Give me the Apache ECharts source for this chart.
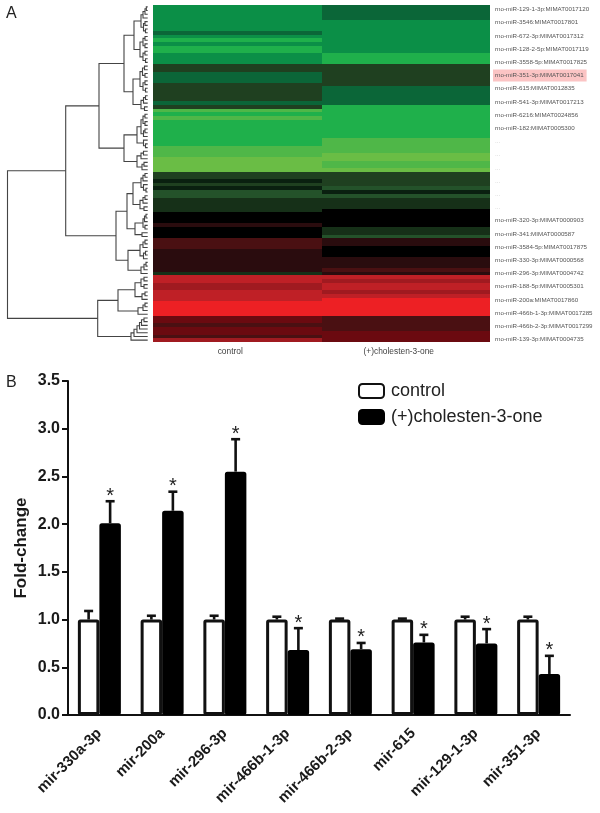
<!DOCTYPE html>
<html>
<head>
<meta charset="utf-8">
<style>
  html, body { margin: 0; padding: 0; background: #fff; }
  #chart { width: 600px; height: 813px; }
</style>
<script src="https://cdn.jsdelivr.net/npm/echarts@6/dist/echarts.min.js"></script>
</head>
<body>
<div id="chart"></div>
<script>
const FONT = '"Liberation Sans", Arial, sans-serif'

// panel A: one level per heatmap row, top to bottom
const heatColumns = ['control', '(+)cholesten-3-one']
const controlLevels = [
  -6, -6, -6, -6, -6, -6, -6, -5, -6, -7, -6, -7, -7, -6, -6, -6, -3, -3, -5, -5,
  -5, -3, -3, -3, -3, -3, -5, -3, -8, -7, -8, -7, -7, -7, -7, -7, -7, -7, -8, -8,
  -8, -9, -9, -9, -9, -3, -3, -1, -3, -1, -4, -4, -2, -2, -2, -2, 0, 0, 0, 1,
  0, 0, 0, 2, 2, 2, 1, 1, 1, 1, 1, 1, -2, 5, 5, 4, 4, 5, 5, 5,
  6, 6, 6, 6, 3, 3, 2, 3, 3, 2, 4
]
const treatedLevels = [
  -5, -5, -5, -5, -6, -6, -6, -6, -6, -6, -6, -6, -6, -7, -7, -7, -3, -3, -3, -3,
  -3, -3, -5, -5, -5, -5, -5, -7, -7, -7, -7, -7, -7, -7, -7, -7, -8, -8, -8, -8,
  -9, -9, -8, -8, -9, -3, -3, -3, -3, -4, -1, -4, -2, -2, -2, 0, 0, 0, 0, 0,
  -2, -2, -4, 1, 1, 0, 0, 0, 1, 1, 1, 2, 1, 5, 4, 5, 5, 4, 5, 6,
  6, 6, 6, 6, 2, 2, 2, 2, 3, 3, 3
]
const levelColors = [
  '#6abd45', '#4fb748', '#1fb04b', '#0b8f47', '#0b6638', '#24522a', '#1f4020', '#163018',
  '#0a2010', '#000000', '#2a0c0e', '#4a1012', '#6b0a10', '#a01a20', '#bf2026', '#ed2024'
]
const rowLabels = [
  'rno-miR-129-1-3p:MIMAT0017120', 'rno-miR-3546:MIMAT0017801', 'rno-miR-672-3p:MIMAT0017312',
  'rno-miR-128-2-5p:MIMAT0017119', 'rno-miR-3558-5p:MIMAT0017825', 'rno-miR-351-3p:MIMAT0017041',
  'rno-miR-615:MIMAT0012835', 'rno-miR-541-3p:MIMAT0017213', 'rno-miR-6216:MIMAT0024856',
  'rno-miR-182:MIMAT0005300', '...', '... ', '...  ', '...   ', '...    ', '...     ',
  'rno-miR-320-3p:MIMAT0000903', 'rno-miR-341:MIMAT0000587', 'rno-miR-3584-5p:MIMAT0017875',
  'rno-miR-330-3p:MIMAT0000568', 'rno-miR-296-3p:MIMAT0004742', 'rno-miR-188-5p:MIMAT0005301',
  'rno-miR-200a:MIMAT0017860', 'rno-miR-466b-1-3p:MIMAT0017285', 'rno-miR-466b-2-3p:MIMAT0017299',
  'rno-miR-139-3p:MIMAT0004735'
]
// node = [merge position, child, child], a bare number is a heatmap row
const dendroTree = [7.5,
  [65.7,
    [99,
      [124,
        [134,
          [141, [143, [145, [146.3, 0, 1], 2], 3], [143.5, [145, 4, 5], [145.5, 6, 7]]],
          [140, [143, [145, 8, 9], [145, 10, 11]], [143, [145, 12, 13], [145.5, 14, 15]]]],
        [133,
          [140, [142.5, [144.5, 16, 17], [145, 18, 19]], [143, [145, 20, 21], [145.5, 22, 23]]],
          [141, [143.5, [145.5, 24, 25], 26], [144.5, 27, 28]]]],
      [124,
        [137,
          [141, [143, [145, 29, 30], [145, 31, 32]], [143.5, [145, 33, 34], 35]],
          [143.5, 36, [145.5, 37, 38]]],
        [137,
          [141, [143.5, 39, 40], 41],
          [142, [144, 42, 43], 44]]]],
    [116,
      [127,
        [133,
          [141, [143, [145, 45, 46], 47], [143.5, 48, [146, 49, 50]]],
          [140, [143, [145, 51, 52], 53], [144, 54, 55]]],
        [135,
          [143, [144.5, [146, 56, 57], 58], [145, 59, 60]],
          [142, 61, 62]]],
      [128,
        [140, [143, [145, 63, 64], 65], [143.5, [145.5, 66, 67], 68]],
        [141, [144, [146, 69, 70], 71], 72]]]],
  [97.7,
    [118,
      [135,
        [141, [144, 73, 74], [144, 75, 76]],
        [142, [145, 77, 78], 79]],
      [138, [143, [145, 80, 81], 82], 83]],
    [131, [134, [137, [139.5, [141.5, [144, 84, 85], 86], 87], 88], 89], 90]]]
const LEAF_X = 147.7

// panel B
const mirNames = ['mir-330a-3p', 'mir-200a', 'mir-296-3p', 'mir-466b-1-3p', 'mir-466b-2-3p', 'mir-615', 'mir-129-1-3p', 'mir-351-3p']
const controlValues = [1, 1, 1, 1, 1, 1, 1, 1]
const controlTops = [1.09, 1.04, 1.04, 1.03, 1.01, 1.01, 1.03, 1.03]
const treatedValues = [2.01, 2.14, 2.55, 0.68, 0.69, 0.76, 0.75, 0.43]
const treatedTops = [2.24, 2.34, 2.89, 0.91, 0.755, 0.84, 0.90, 0.62]

const heatData = []
controlLevels.forEach((v, i) => heatData.push([0, i, v]))
treatedLevels.forEach((v, i) => heatData.push([1, i, v]))

// flatten the tree into brackets: x, y1, x1, y2, x2
const dendroLinks = []
function walk(node) {
  if (typeof node === 'number') return { x: LEAF_X, y: node + 0.5 }
  const a = walk(node[1])
  const b = walk(node[2])
  dendroLinks.push([node[0], a.y, a.x, b.y, b.x])
  return { x: node[0], y: (a.y + b.y) / 2 }
}
walk(dendroTree)

const BAR_OFFSET = 10.75

function errorBarItem(offset, star) {
  return function (params, api) {
    const base = api.coord([api.value(0), api.value(1)])
    const top = api.coord([api.value(0), api.value(2)])
    const x = base[0] + offset
    const style = { stroke: '#111', lineWidth: 2.6, fill: null }
    const children = [
      { type: 'line', shape: { x1: x, y1: base[1], x2: x, y2: top[1] }, style },
      { type: 'line', shape: { x1: x - 4.5, y1: top[1], x2: x + 4.5, y2: top[1] }, style }
    ]
    if (star) {
      children.push({
        type: 'text',
        style: { text: '*', x, y: top[1] - 5, align: 'center', verticalAlign: 'middle', fontSize: 20, fontFamily: FONT, fill: '#222' }
      })
    }
    return { type: 'group', children }
  }
}

// whole-pixel row edges, otherwise the thin rows show seams
function heatCell(params, api) {
  const size = api.size([1, 1])
  const center = api.coord([api.value(0), api.value(1)])
  const x0 = Math.round(center[0] - size[0] / 2)
  const x1 = Math.round(center[0] + size[0] / 2)
  const y0 = Math.round(center[1] - size[1] / 2)
  const y1 = Math.round(center[1] + size[1] / 2)
  return {
    type: 'rect',
    shape: { x: x0, y: y0, width: x1 - x0, height: y1 - y0 },
    style: { fill: api.visual('color') }
  }
}

const chart = echarts.init(document.getElementById('chart'))
chart.setOption({
  backgroundColor: '#fff',
  animation: false,
  textStyle: { fontFamily: FONT },
  title: [
    { text: 'A', left: 6, top: 6, padding: 0, textStyle: { fontSize: 16, fontWeight: 'normal', color: '#222', fontFamily: FONT } },
    { text: 'B', left: 6, top: 375, padding: 0, textStyle: { fontSize: 16, fontWeight: 'normal', color: '#222', fontFamily: FONT } }
  ],
  legend: {
    left: 358, top: 382, orient: 'vertical', padding: 0,
    itemWidth: 25, itemHeight: 14, itemGap: 8,
    selectedMode: false,
    data: [{ name: 'control', icon: 'roundRect' }, { name: '(+)cholesten-3-one', icon: 'roundRect' }],
    textStyle: { fontSize: 18, color: '#222', fontFamily: FONT, padding: [0, 0, 0, 2] }
  },
  visualMap: {
    show: false, type: 'continuous', seriesIndex: 0, dimension: 2,
    min: -9, max: 6, inRange: { color: levelColors }
  },
  grid: [
    { left: 153, top: 5, width: 337, height: 337 },
    { left: 492, top: 3, width: 1, height: 343 },
    { left: 0, top: 5, width: 150, height: 337 },
    { left: 68, top: 381, width: 502, height: 334 }
  ],
  xAxis: [
    {
      gridIndex: 0, type: 'category', data: heatColumns,
      axisLine: { show: false }, axisTick: { show: false },
      axisLabel: { fontSize: 8.4, color: '#444', margin: 6, padding: [0, 14, 0, 0] }
    },
    { gridIndex: 1, type: 'value', min: 0, max: 1, show: false },
    { gridIndex: 2, type: 'value', min: 0, max: 150, show: false },
    {
      gridIndex: 3, type: 'category', data: mirNames,
      axisLine: { lineStyle: { color: '#111', width: 2 } },
      axisTick: { alignWithLabel: true, length: 6, lineStyle: { color: '#111', width: 2 } },
      axisLabel: { rotate: 45, interval: 0, fontSize: 15, fontWeight: 'bold', color: '#1a1a1a', margin: 16 }
    }
  ],
  yAxis: [
    { gridIndex: 0, type: 'category', inverse: true, data: controlLevels.map((v, i) => i), show: false },
    {
      gridIndex: 1, type: 'category', inverse: true, position: 'right', data: rowLabels,
      axisLine: { show: false }, axisTick: { show: false },
      axisLabel: {
        interval: 0, margin: 0, fontSize: 6.2, color: '#555',
        formatter: v => v.indexOf('351-3p') >= 0 ? '{hl|' + v + '}' : v.indexOf('...') === 0 ? '{dots|...}' : '{t|' + v + '}',
        rich: {
          t: { fontSize: 6.2, color: '#555', padding: [0, 3, 0, 2] },
          hl: { fontSize: 6.2, color: '#555', backgroundColor: '#fbc4c4', padding: [3, 3, 3, 2] },
          dots: { fontSize: 6.2, color: '#bbb', padding: [0, 0, 0, 2] }
        }
      }
    },
    { gridIndex: 2, type: 'value', inverse: true, min: 0, max: 91, show: false },
    {
      gridIndex: 3, type: 'value', min: 0, max: 3.5, interval: 0.5,
      name: 'Fold-change', nameLocation: 'middle', nameGap: 38, nameRotate: 90, nameMoveOverlap: false,
      nameTextStyle: { fontSize: 17, fontWeight: 'bold', color: '#1a1a1a' },
      splitLine: { show: false },
      axisLine: { show: true, lineStyle: { color: '#111', width: 2 } },
      axisTick: { show: true, length: 6, lineStyle: { color: '#111', width: 2 } },
      axisLabel: { fontSize: 16, fontWeight: 'bold', color: '#1a1a1a', margin: 8, formatter: v => v.toFixed(1) }
    }
  ],
  series: [
    {
      type: 'custom', xAxisIndex: 0, yAxisIndex: 0, data: heatData, silent: true,
      encode: { x: 0, y: 1 }, renderItem: heatCell
    },
    {
      type: 'custom', xAxisIndex: 2, yAxisIndex: 2, data: dendroLinks, silent: true,
      encode: { x: [0, 2, 4], y: [1, 3] },
      renderItem: function (params, api) {
        const p1 = api.coord([api.value(2), api.value(1)])
        const m1 = api.coord([api.value(0), api.value(1)])
        const m2 = api.coord([api.value(0), api.value(3)])
        const p2 = api.coord([api.value(4), api.value(3)])
        return {
          type: 'polyline',
          shape: { points: [p1, m1, m2, p2] },
          style: { stroke: '#444', lineWidth: 1.1, fill: null }
        }
      }
    },
    {
      name: 'control', type: 'bar', xAxisIndex: 3, yAxisIndex: 3, data: controlValues,
      barWidth: 21.5, barGap: 0,
      itemStyle: { color: '#fff', borderColor: '#111', borderWidth: 3, borderRadius: 1 }
    },
    {
      name: '(+)cholesten-3-one', type: 'bar', xAxisIndex: 3, yAxisIndex: 3, data: treatedValues,
      barWidth: 21.5, barGap: 0,
      itemStyle: { color: '#000', borderColor: '#000', borderWidth: 3, borderRadius: 1 }
    },
    {
      type: 'custom', xAxisIndex: 3, yAxisIndex: 3, silent: true, z: 5,
      data: mirNames.map((n, i) => [i, controlValues[i], controlTops[i]]),
      encode: { x: 0, y: 2 },
      renderItem: errorBarItem(-BAR_OFFSET, false)
    },
    {
      type: 'custom', xAxisIndex: 3, yAxisIndex: 3, silent: true, z: 5,
      data: mirNames.map((n, i) => [i, treatedValues[i], treatedTops[i]]),
      encode: { x: 0, y: 2 },
      renderItem: errorBarItem(BAR_OFFSET, true)
    }
  ]
})
window.addEventListener('resize', () => chart.resize())
</script>
</body>
</html>
